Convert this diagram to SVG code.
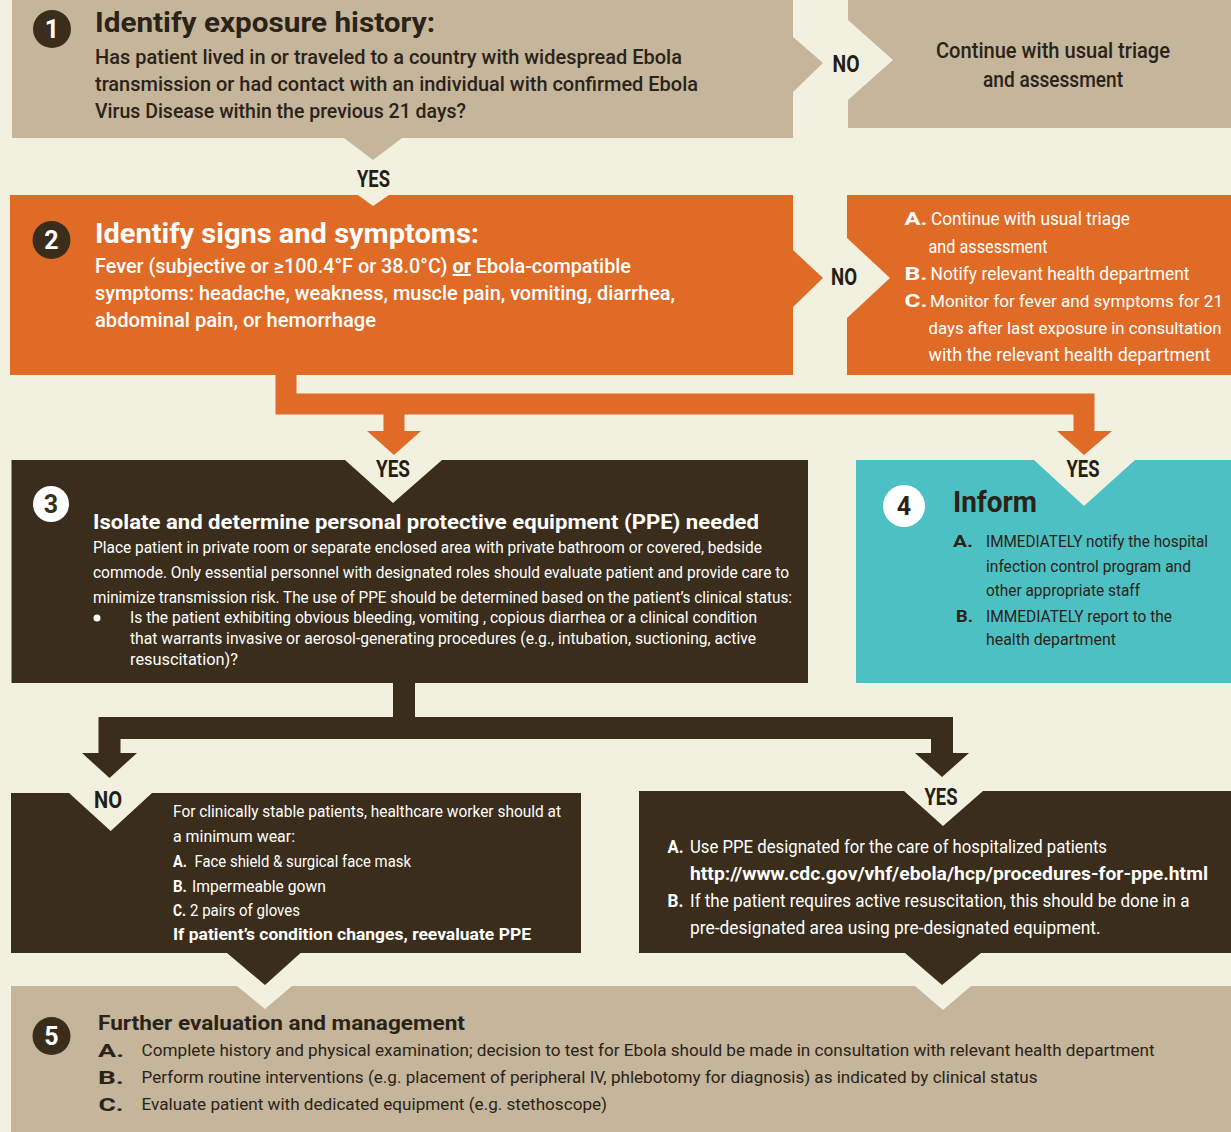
<svg xmlns="http://www.w3.org/2000/svg" width="1231" height="1132" viewBox="0 0 1231 1132">
<style>
.bg{fill:#F2F0DF}
.tan{fill:#C4B59B}
.org{fill:#E06B27}
.drk{fill:#3A2D1B}
.teal{fill:#4DC0C3}
.wht{fill:#FFFFFF}
text{font-family:Roboto,"Liberation Sans",sans-serif}
.td{fill:#2B2318}
.tw{fill:#FFFFFF}
.b{font-weight:700}
.sb{font-weight:500}
.lbl{font-weight:700;font-size:23px;fill:#231E16;text-anchor:middle}
.num{font-weight:700;font-size:25px;text-anchor:middle}
.co{fill:none;stroke:#E06B27;stroke-width:21;stroke-linejoin:miter}
.cd{fill:none;stroke:#3A2D1B;stroke-width:22;stroke-linejoin:miter}
.aho{fill:#E06B27}
.ahd{fill:#3A2D1B}
</style>
<rect class="bg" x="0" y="0" width="1231" height="1132"/>

<g id="connectors">
  <path class="co" d="M286,375 V404 H1084 V433"/>
  <path class="co" d="M394,404 V433"/>
  <polygon class="aho" points="367,431 421,431 394,455"/>
  <polygon class="aho" points="1057,431 1112,431 1084,455"/>
  <path class="cd" d="M404,683 V728"/>
  <path class="cd" d="M109.5,755 V728 H942 V755"/>
  <polygon class="ahd" points="82,753 137,753 109.5,778"/>
  <polygon class="ahd" points="915,753 969,753 942,777"/>
</g>

<g id="step1">
  <polygon class="tan" points="12,0 793,0 793,37 823,63 793,92 793,138 402,138 373,160 344,138 12,138"/>
  <circle class="drk" cx="52" cy="29" r="19"/>
  <text class="num tw" x="52" y="38">1</text>
  <text class="td b" x="95" y="32" font-size="27" textLength="340" lengthAdjust="spacingAndGlyphs">Identify exposure history:</text>
  <text class="td sb" x="95" y="64" font-size="20" textLength="587" lengthAdjust="spacingAndGlyphs">Has patient lived in or traveled to a country with widespread Ebola</text>
  <text class="td sb" x="95" y="91" font-size="20" textLength="603" lengthAdjust="spacingAndGlyphs">transmission or had contact with an individual with confirmed Ebola</text>
  <text class="td sb" x="95" y="118" font-size="20" textLength="371" lengthAdjust="spacingAndGlyphs">Virus Disease within the previous 21 days?</text>
  <text class="lbl" x="373.5" y="187" textLength="33" lengthAdjust="spacingAndGlyphs">YES</text>
  <text class="lbl" x="846" y="72" textLength="27" lengthAdjust="spacingAndGlyphs">NO</text>
</g>

<g id="step1-no">
  <polygon class="tan" points="848,0 1231,0 1231,128 848,128 848,100 893,60 848,20"/>
  <text class="td sb" x="1053" y="58" font-size="22" text-anchor="middle" textLength="234" lengthAdjust="spacingAndGlyphs">Continue with usual triage</text>
  <text class="td sb" x="1053" y="87" font-size="22" text-anchor="middle" textLength="140" lengthAdjust="spacingAndGlyphs">and assessment</text>
</g>

<g id="step2">
  <polygon class="org" points="10,195 358,195 373,206 389,195 793,195 793,250 823,278 793,307 793,375 10,375"/>
  <circle class="drk" cx="51.5" cy="240" r="19"/>
  <text class="num tw" x="51.5" y="249">2</text>
  <text class="tw b" x="95" y="243" font-size="27" textLength="384" lengthAdjust="spacingAndGlyphs">Identify signs and symptoms:</text>
  <text class="tw sb" x="95" y="273" font-size="19.5" textLength="536" lengthAdjust="spacingAndGlyphs">Fever (subjective or ≥100.4°F or 38.0°C) <tspan class="b" text-decoration="underline">or</tspan> Ebola-compatible</text>
  <text class="tw sb" x="95" y="300" font-size="19.5" textLength="580" lengthAdjust="spacingAndGlyphs">symptoms: headache, weakness, muscle pain, vomiting, diarrhea,</text>
  <text class="tw sb" x="95" y="327" font-size="19.5" textLength="281" lengthAdjust="spacingAndGlyphs">abdominal pain, or hemorrhage</text>
  <text class="lbl" x="844" y="285" textLength="26" lengthAdjust="spacingAndGlyphs">NO</text>
</g>

<g id="step2-no">
  <polygon class="org" points="847,195 1231,195 1231,375 847,375 847,318 890,278 847,238"/>
  <text class="tw b" x="904.5" y="225" font-size="19" textLength="23" lengthAdjust="spacingAndGlyphs">A.</text>
  <text class="tw" x="931" y="225" font-size="17.5" textLength="199" lengthAdjust="spacingAndGlyphs">Continue with usual triage</text>
  <text class="tw" x="928.5" y="253" font-size="17.5" textLength="119" lengthAdjust="spacingAndGlyphs">and assessment</text>
  <text class="tw b" x="904.5" y="280" font-size="19" textLength="23" lengthAdjust="spacingAndGlyphs">B.</text>
  <text class="tw" x="930.5" y="280" font-size="17.5" textLength="259" lengthAdjust="spacingAndGlyphs">Notify relevant health department</text>
  <text class="tw b" x="904.5" y="307" font-size="19" textLength="23" lengthAdjust="spacingAndGlyphs">C.</text>
  <text class="tw" x="930" y="307" font-size="17" textLength="293" lengthAdjust="spacingAndGlyphs">Monitor for fever and symptoms  for 21</text>
  <text class="tw" x="928.5" y="334" font-size="17" textLength="293" lengthAdjust="spacingAndGlyphs">days after last exposure in consultation</text>
  <text class="tw" x="928.5" y="361" font-size="17.5" textLength="282" lengthAdjust="spacingAndGlyphs">with  the relevant health department</text>
</g>

<g id="step3">
  <polygon class="drk" points="11.5,460 345,460 393,503 442,460 808,460 808,683 11.5,683"/>
  <text class="lbl" x="393" y="477" textLength="34" lengthAdjust="spacingAndGlyphs">YES</text>
  <circle class="wht" cx="51" cy="504" r="18"/>
  <text class="num" fill="#3A2D1B" x="51" y="513">3</text>
  <text class="tw b" x="93" y="529" font-size="21" textLength="666" lengthAdjust="spacingAndGlyphs">Isolate  and determine personal protective equipment (PPE) needed</text>
  <text class="tw" x="93" y="553" font-size="16" textLength="669" lengthAdjust="spacingAndGlyphs">Place patient in private room or separate enclosed area with private bathroom or covered, bedside</text>
  <text class="tw" x="93" y="578" font-size="16" textLength="696" lengthAdjust="spacingAndGlyphs">commode. Only essential personnel with designated roles should evaluate patient and provide care to</text>
  <text class="tw" x="93" y="603" font-size="16" textLength="699" lengthAdjust="spacingAndGlyphs">minimize transmission risk. The use of PPE should be determined based on the patient’s clinical status:</text>
  <circle class="wht" cx="97" cy="618" r="3.5"/>
  <text class="tw" x="130" y="623" font-size="16" textLength="627" lengthAdjust="spacingAndGlyphs">Is the patient exhibiting obvious bleeding, vomiting , copious diarrhea or a clinical condition</text>
  <text class="tw" x="130" y="644" font-size="16" textLength="626" lengthAdjust="spacingAndGlyphs">that warrants invasive or aerosol-generating procedures (e.g., intubation, suctioning, active</text>
  <text class="tw" x="130" y="665" font-size="16" textLength="108" lengthAdjust="spacingAndGlyphs">resuscitation)?</text>
</g>

<g id="step4">
  <polygon class="teal" points="856,460 1034,460 1084,506 1135,460 1231,460 1231,683 856,683"/>
  <text class="lbl" x="1083" y="477" textLength="33" lengthAdjust="spacingAndGlyphs">YES</text>
  <circle class="wht" cx="904" cy="506" r="21"/>
  <text class="num" fill="#2B2318" x="904" y="515" font-size="26">4</text>
  <text class="td b" x="953" y="512" font-size="30" textLength="84" lengthAdjust="spacingAndGlyphs">Inform</text>
  <text class="td b" x="953" y="547" font-size="16" textLength="20" lengthAdjust="spacingAndGlyphs">A.</text>
  <text class="td" x="986" y="547" font-size="16.5" textLength="222" lengthAdjust="spacingAndGlyphs">IMMEDIATELY notify the hospital</text>
  <text class="td" x="986" y="572" font-size="16.5" textLength="205" lengthAdjust="spacingAndGlyphs">infection control program and</text>
  <text class="td" x="986" y="596" font-size="16.5" textLength="154" lengthAdjust="spacingAndGlyphs">other appropriate staff</text>
  <text class="td b" x="956" y="622" font-size="16" textLength="17" lengthAdjust="spacingAndGlyphs">B.</text>
  <text class="td" x="986" y="622" font-size="16.5" textLength="186" lengthAdjust="spacingAndGlyphs">IMMEDIATELY report  to the</text>
  <text class="td" x="986" y="645" font-size="16.5" textLength="130" lengthAdjust="spacingAndGlyphs">health department</text>
</g>

<g id="ppe-no">
  <polygon class="drk" points="11,793 69,793 110.7,831 152,793 581,793 581,953 300.5,953 265,985 227,953 11,953"/>
  <text class="lbl" x="108" y="808" textLength="28" lengthAdjust="spacingAndGlyphs">NO</text>
  <text class="tw" x="173" y="817" font-size="17" textLength="388" lengthAdjust="spacingAndGlyphs">For clinically stable patients, healthcare worker should at</text>
  <text class="tw" x="173" y="842" font-size="17" textLength="122" lengthAdjust="spacingAndGlyphs">a minimum wear:</text>
  <text class="tw b" x="173" y="867" font-size="17" textLength="14" lengthAdjust="spacingAndGlyphs">A.</text>
  <text class="tw" x="194.5" y="867" font-size="17" textLength="216.5" lengthAdjust="spacingAndGlyphs">Face shield &amp; surgical face mask</text>
  <text class="tw b" x="173" y="892" font-size="17" textLength="14" lengthAdjust="spacingAndGlyphs">B.</text>
  <text class="tw" x="192" y="892" font-size="17" textLength="134" lengthAdjust="spacingAndGlyphs">Impermeable gown</text>
  <text class="tw b" x="173" y="916" font-size="17" textLength="13" lengthAdjust="spacingAndGlyphs">C.</text>
  <text class="tw" x="190" y="916" font-size="17" textLength="110" lengthAdjust="spacingAndGlyphs">2 pairs of gloves</text>
  <text class="tw b" x="173" y="940" font-size="17" textLength="358" lengthAdjust="spacingAndGlyphs">If  patient’s condition changes, reevaluate PPE</text>
</g>

<g id="ppe-yes">
  <polygon class="drk" points="639,791 904,791 943,826 983,791 1231,791 1231,953 981,953 942,985 905,953 639,953"/>
  <text class="lbl" x="941" y="805" textLength="33" lengthAdjust="spacingAndGlyphs">YES</text>
  <text class="tw b" x="667.5" y="853" font-size="19" textLength="16" lengthAdjust="spacingAndGlyphs">A.</text>
  <text class="tw" x="690" y="853" font-size="19" textLength="417" lengthAdjust="spacingAndGlyphs">Use PPE designated for the care of hospitalized patients</text>
  <text class="tw b" x="690" y="880" font-size="19" textLength="518" lengthAdjust="spacingAndGlyphs">http://www.cdc.gov/vhf/ebola/hcp/procedures-for-ppe.html</text>
  <text class="tw b" x="667.5" y="907" font-size="19" textLength="16" lengthAdjust="spacingAndGlyphs">B.</text>
  <text class="tw" x="690" y="907" font-size="18" textLength="499.5" lengthAdjust="spacingAndGlyphs">If the patient requires active resuscitation, this should be done in a</text>
  <text class="tw" x="690" y="934" font-size="19" textLength="410.5" lengthAdjust="spacingAndGlyphs">pre-designated area using pre-designated equipment.</text>
</g>

<g id="step5">
  <polygon class="tan" points="11,986 237,986 265,1009 292,986 915,986 943,1010 971,986 1231,986 1231,1132 11,1132"/>
  <circle class="drk" cx="51.5" cy="1036" r="19"/>
  <text class="num tw" x="51.5" y="1045">5</text>
  <text class="td b" x="98" y="1030" font-size="20" textLength="367" lengthAdjust="spacingAndGlyphs">Further evaluation and management</text>
  <text class="td b" x="98" y="1057" font-size="18" textLength="26" lengthAdjust="spacingAndGlyphs">A.</text>
  <text class="td" x="141.6" y="1056" font-size="17" textLength="1013" lengthAdjust="spacingAndGlyphs">Complete history and physical examination; decision to test for Ebola should be made in consultation with relevant health department</text>
  <text class="td b" x="98" y="1084" font-size="18" textLength="26" lengthAdjust="spacingAndGlyphs">B.</text>
  <text class="td" x="141.6" y="1083" font-size="17" textLength="896" lengthAdjust="spacingAndGlyphs">Perform routine interventions (e.g. placement of peripheral IV, phlebotomy for diagnosis) as indicated by clinical status</text>
  <text class="td b" x="98.5" y="1111" font-size="18" textLength="25" lengthAdjust="spacingAndGlyphs">C.</text>
  <text class="td" x="141.6" y="1110" font-size="17" textLength="465.5" lengthAdjust="spacingAndGlyphs">Evaluate patient with dedicated equipment (e.g. stethoscope)</text>
</g>
</svg>
